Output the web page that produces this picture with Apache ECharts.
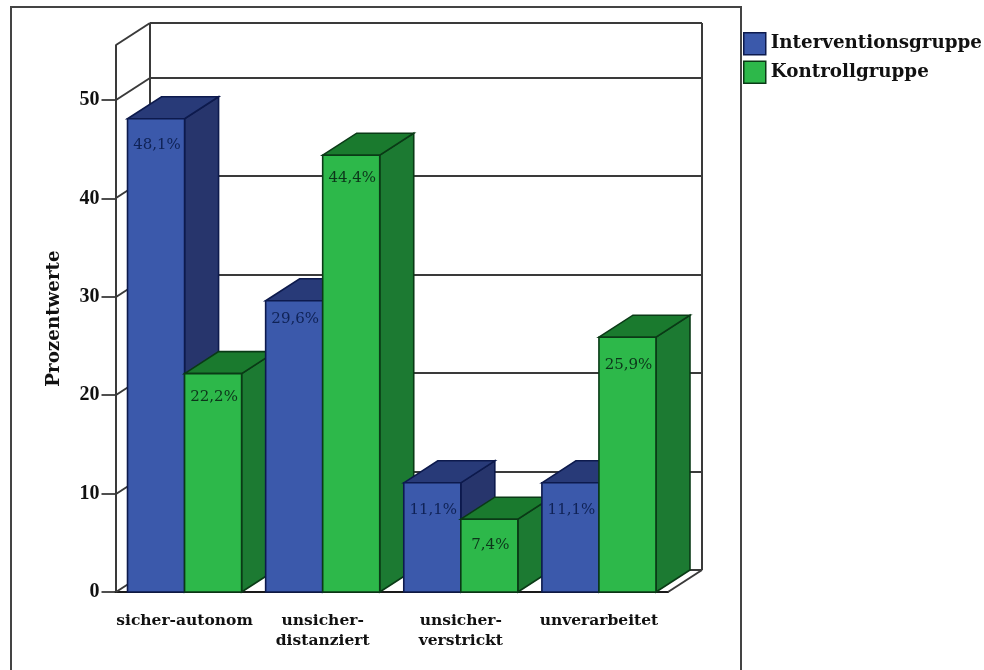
<!DOCTYPE html>
<html>
<head>
<meta charset="utf-8">
<style>html,body{margin:0;padding:0;background:#fff}#chart{width:984px;height:670px}</style>
<script src="https://cdn.jsdelivr.net/npm/echarts@6/dist/echarts.min.js"></script>
</head>
<body>
<div id="chart"></div>
<script>
// Attachment groups, in percent
const categories = ['sicher-autonom', 'unsicher-\ndistanziert', 'unsicher-\nverstrickt', 'unverarbeitet'];
const interventionValues = [48.1, 29.6, 11.1, 11.1];
const controlValues = [22.2, 44.4, 7.4, 25.9];
const yTicks = [0, 10, 20, 30, 40, 50];
const yAxisTop = 55.6;

// Oblique projection of the box: how far depth shifts a point, in pixels
const DEPTH_X = 34;
const DEPTH_Y = -22;
const SERIF_BOLD = '"DejaVu Serif"';
const WALL_LINE = '#3a3a3a';

// Distance of each value label below its bar top, in pixels
const interventionLabelDrop = [26, 18, 27, 27];
const controlLabelDrop = [24, 23, 26, 28];

const blue = { face: '#3b59ab', side: '#27356c', top: '#283a78', edge: '#0d1a4d', text: '#0f2255', drop: interventionLabelDrop };
const green = { face: '#2db84a', side: '#1c7a32', top: '#1a7a2e', edge: '#0a3a16', text: '#0c351a', drop: controlLabelDrop };

// Wall lines snap to whole pixels so they all keep the same weight
const line = (p, q) => ({
  type: 'line',
  shape: { x1: Math.round(p[0]), y1: Math.round(p[1]), x2: Math.round(q[0]), y2: Math.round(q[1]) },
  style: { stroke: WALL_LINE, lineWidth: 2 }
});
const back = p => [p[0] + DEPTH_X, p[1] + DEPTH_Y];

// Left wall, back wall and floor, all taken from the value scale
function renderBox(params, api) {
  const band = api.size([1, 0])[0];
  const left = api.coord([0, 0])[0] - band / 2;
  const right = left + band * categories.length;
  const y = api.coord([0, api.value(0)])[1];
  const kids = [];
  const l = [left, y];
  kids.push(line(l, back(l)));
  kids.push(line(back(l), back([right, y])));
  if (api.value(0) === 0) {
    const t = api.coord([0, yAxisTop])[1];
    kids.push(line([right, y], back([right, y])));
    kids.push(line(back([left, y]), back([left, t])));
    kids.push(line(back([right, y]), back([right, t])));
    kids.push(line([left, y], [left, t]));
  }
  return { type: 'group', children: kids };
}

// One bar as three faces: side, top and front, plus its value label
function barRenderer(colors, slot) {
  return function (params, api) {
    const cat = api.value(0);
    const value = api.value(1);
    const center = api.coord([cat, 0])[0];
    const width = api.size([1, 0])[0] * 0.413;
    const x0 = center + (slot - 1) * width;
    const x1 = x0 + width;
    const y0 = api.coord([cat, 0])[1];
    const y1 = api.coord([cat, value])[1];
    const z2 = 10 + cat * 4 + slot * 2;
    const stroke = { stroke: colors.edge, lineWidth: 1.6, lineJoin: 'miter' };
    const poly = (points, fill) => ({
      type: 'polygon', z2,
      shape: { points },
      style: Object.assign({ fill }, stroke)
    });
    return {
      type: 'group',
      children: [
        poly([[x1, y0], back([x1, y0]), back([x1, y1]), [x1, y1]], colors.side),
        poly([[x0, y1], back([x0, y1]), back([x1, y1]), [x1, y1]], colors.top),
        poly([[x0, y0], [x1, y0], [x1, y1], [x0, y1]], colors.face),
        {
          type: 'text', z2: z2 + 1,
          style: {
            x: (x0 + x1) / 2 + 1, y: y1 + colors.drop[cat],
            text: value.toFixed(1).replace('.', ',') + '%',
            fill: colors.text,
            font: '15px "DejaVu Serif"',
            align: 'center', verticalAlign: 'middle'
          }
        }
      ]
    };
  };
}

const asBars = values => values.map((v, i) => [i, v]);

const chart = echarts.init(document.getElementById('chart'));
chart.setOption({
  animation: false,
  backgroundColor: '#ffffff',
  grid: { left: 115.5, right: 316, top: 45, bottom: 78, containLabel: false },
  legend: {
    left: 743, top: 32, orient: 'vertical', itemWidth: 22, itemHeight: 22, itemGap: 5,
    icon: 'rect', selectedMode: false, padding: 0,
    textStyle: { fontFamily: SERIF_BOLD, fontWeight: 'bold', fontSize: 18.3, color: '#111111' },
    data: [
      { name: 'Interventionsgruppe', itemStyle: { color: blue.face, borderColor: blue.edge, borderWidth: 1.5 } },
      { name: 'Kontrollgruppe', itemStyle: { color: green.face, borderColor: green.edge, borderWidth: 1.5 } }
    ]
  },
  xAxis: {
    type: 'category',
    data: categories,
    axisLine: { lineStyle: { color: '#1a1a1a', width: 2 } },
    axisTick: { alignWithLabel: true, length: 14, lineStyle: { color: '#222222', width: 1.6 } },
    axisLabel: {
      interval: 0, margin: 19, lineHeight: 20, color: '#111111',
      fontFamily: SERIF_BOLD, fontWeight: 'bold', fontSize: 15.5
    }
  },
  yAxis: {
    type: 'value', min: 0, max: yAxisTop,
    name: 'Prozentwerte', nameLocation: 'middle', nameGap: 52, nameRotate: 90,
    nameTextStyle: { fontFamily: SERIF_BOLD, fontWeight: 'bold', fontSize: 18.3, color: '#111111' },
    splitLine: { show: false },
    axisLine: { show: true, lineStyle: { color: '#222222', width: 1.6 } },
    axisTick: { show: true, length: 14, customValues: yTicks, lineStyle: { color: '#222222', width: 1.6 } },
    axisLabel: {
      customValues: yTicks, margin: 16, color: '#111111', padding: [4, 0, 0, 0],
      fontFamily: '"Liberation Serif"', fontWeight: 'bold', fontSize: 20
    }
  },
  graphic: [{
    type: 'polyline', silent: true,
    shape: { points: [[11, 680], [11, 7], [741, 7], [741, 680]] },
    style: { fill: 'none', stroke: '#444444', lineWidth: 2 }
  }],
  series: [
    {
      type: 'custom', name: 'box', coordinateSystem: 'cartesian2d', z: 1, silent: true,
      renderItem: renderBox, encode: { y: 0 },
      data: yTicks.concat([yAxisTop]).map(v => [v])
    },
    {
      type: 'custom', name: 'Interventionsgruppe', coordinateSystem: 'cartesian2d', z: 2,
      renderItem: barRenderer(blue, 0), encode: { x: 0, y: 1 },
      itemStyle: { color: blue.face }, data: asBars(interventionValues)
    },
    {
      type: 'custom', name: 'Kontrollgruppe', coordinateSystem: 'cartesian2d', z: 2,
      renderItem: barRenderer(green, 1), encode: { x: 0, y: 1 },
      itemStyle: { color: green.face }, data: asBars(controlValues)
    }
  ]
});
</script>
</body>
</html>
